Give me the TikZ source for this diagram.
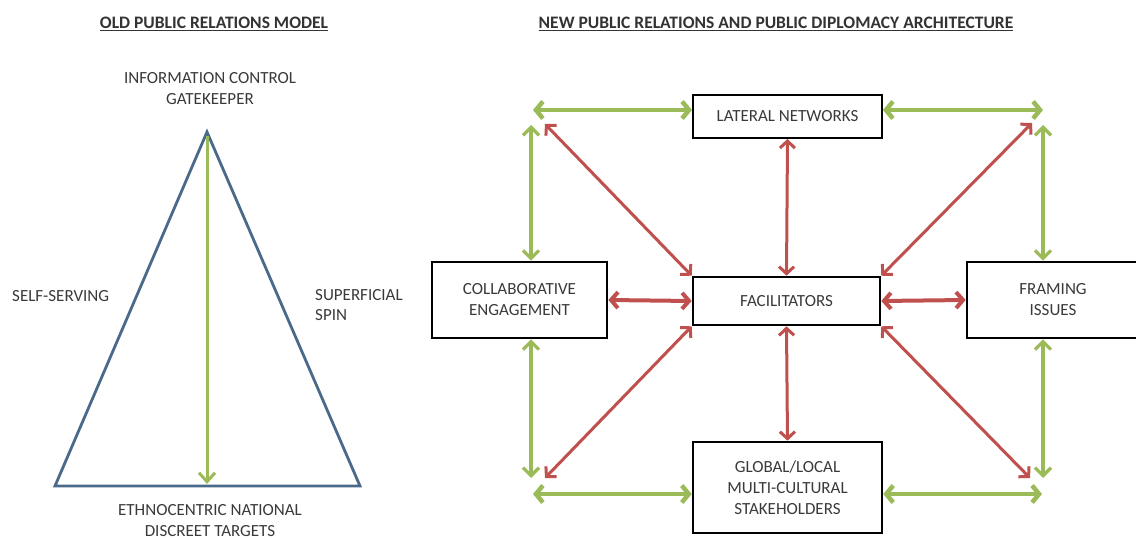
\documentclass[tikz,border=0pt]{standalone}
\usepackage{fontspec}
\setmainfont{Carlito}
\usetikzlibrary{arrows.meta,calc}
\definecolor{pgreen}{HTML}{9BBB59}
\definecolor{pred}{HTML}{C0504D}
\definecolor{pblue}{HTML}{4A6A8C}
\definecolor{ptext}{HTML}{3A3A3A}
\tikzset{
  lbl/.style={text=ptext,font=\fontsize{17}{21}\selectfont,inner sep=0pt,align=center},
  lbll/.style={text=ptext,font=\fontsize{17}{20}\selectfont,inner sep=0pt,align=left,anchor=west},
  ttl/.style={text=black!80,font=\fontsize{17.5}{20}\selectfont\bfseries,inner sep=0pt},
  boxn/.style={draw=black,line width=2.6pt,fill=white,text=ptext,font=\fontsize{17}{21}\selectfont,align=center,inner sep=0pt},
  garrow/.style={draw=pgreen,line width=4.5pt,{Straight Barb[length=7pt,width=17pt]}-{Straight Barb[length=7pt,width=17pt]}},
  garrowv/.style={draw=pgreen,line width=3.2pt,{Straight Barb[length=8pt,width=16pt]}-{Straight Barb[length=8pt,width=16pt]}},
  rarrow/.style={draw=pred,line width=3pt,{Straight Barb[length=7pt,width=15pt]}-{Straight Barb[length=7pt,width=15pt]}},
  rarrowh/.style={draw=pred,line width=4pt,{Straight Barb[length=7pt,width=16pt]}-{Straight Barb[length=7pt,width=16pt]}},
}
\begin{document}
\begin{tikzpicture}[x=1pt,y=-1pt]
\useasboundingbox (0,0) rectangle (1136,540);
\fill[white] (0,0) rectangle (1136,540);
% ---------- left: old model ----------
\node[ttl] (ttlold) at (214,24) {\underline{OLD PUBLIC RELATIONS MODEL}};
\node[lbl] (top) at (210,89) {INFORMATION CONTROL\\GATEKEEPER};
\node[lbll] (self) at (12,296) {SELF-SERVING};
\node[lbll] (spin) at (315,305) {SUPERFICIAL\\SPIN};
\node[lbl] (ethno) at (210,521) {ETHNOCENTRIC NATIONAL\\DISCREET TARGETS};
\coordinate (apex) at (207,132);
\coordinate (bl) at (55,486);
\coordinate (br) at (360,486);
\coordinate (apexin) at (207,136);
\coordinate (basemid) at (207,484);
\draw[pblue,line width=2.8pt,line join=miter] (apex) -- (br) -- (bl) -- cycle;
\draw[draw=pgreen,line width=3pt,-{Straight Barb[length=9pt,width=16pt]}] (apexin) -- (basemid);
% ---------- right: new architecture ----------
\node[ttl] (ttlnew) at (776,24) {\underline{NEW PUBLIC RELATIONS AND PUBLIC DIPLOMACY ARCHITECTURE}};
\node[boxn,minimum width=189pt,minimum height=43pt,line width=2pt] (lat) at (787.5,116.5) {LATERAL NETWORKS};
\node[boxn,minimum width=187pt,minimum height=48pt] (fac) at (786.5,301) {FACILITATORS};
\node[boxn,minimum width=175pt,minimum height=76pt] (col) at (519.5,300) {COLLABORATIVE\\ENGAGEMENT};
\node[boxn,minimum width=172pt,minimum height=76pt] (fra) at (1053,300) {FRAMING\\ISSUES};
\node[boxn,minimum width=189pt,minimum height=91pt] (glo) at (787.5,487.5) {GLOBAL/LOCAL\\MULTI-CULTURAL\\STAKEHOLDERS};
% corner points
\coordinate (gtlh) at (533,110);
\coordinate (gtlv) at (531,125);
\coordinate (gtrh) at (1043,110);
\coordinate (gtrv) at (1043,125);
\coordinate (gblh) at (533,494);
\coordinate (gblv) at (531,478);
\coordinate (gbrh) at (1042,494);
\coordinate (gbrv) at (1043,478);
\coordinate (rtl) at (545,124);
\coordinate (rtr) at (1032,123);
\coordinate (rbl) at (545,478);
\coordinate (rbr) at (1030,478);
% green
\draw[garrow] (gtlh) -- (lat.west |- gtlh);
\draw[garrow] (lat.east |- gtrh) -- (gtrh);
\draw[garrow] (gblh) -- (glo.west |- gblh);
\draw[garrow] (glo.east |- gbrh) -- (gbrh);
\draw[garrowv] (gtlv) -- (col.north -| gtlv);
\draw[garrowv] (col.south -| gblv) -- (gblv);
\draw[garrowv] (gtrv) -- (fra.north -| gtrv);
\draw[garrowv] (fra.south -| gbrv) -- (gbrv);
% red
\draw[rarrow] (rtl) -- (fac.north west);
\draw[rarrow] (rtr) -- (fac.north east);
\draw[rarrow] (rbl) -- (fac.south west);
\draw[rarrow] (rbr) -- (fac.south east);
\draw[rarrow] (lat.south) -- (fac.north);
\draw[rarrow] (fac.south) -- (glo.north);
\draw[rarrowh] (col.east) -- (fac.west);
\draw[rarrowh] (fac.east) -- (fra.west);
\end{tikzpicture}
\end{document}
